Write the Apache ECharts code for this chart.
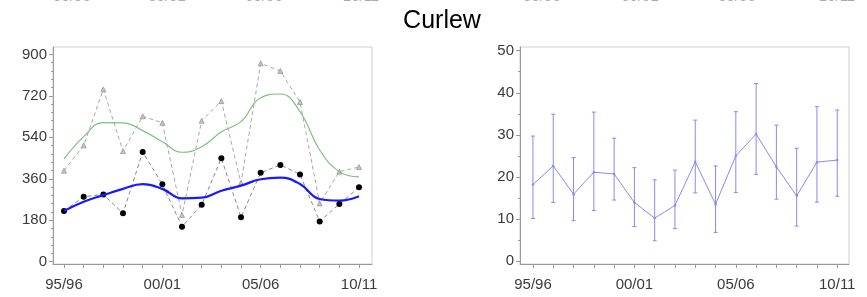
<!DOCTYPE html>
<html>
<head>
<meta charset="utf-8">
<script src="https://cdn.jsdelivr.net/npm/echarts@6/dist/echarts.min.js"></script>
<style>
html,body{margin:0;padding:0;background:#fff;}
#chart{width:867px;height:297px;}
</style>
</head>
<body>
<div id="chart"></div>
<script>
// ---- data ----
var seasons = ['95/96','96/97','97/98','98/99','99/00','00/01','01/02','02/03','03/04','04/05','05/06','06/07','07/08','08/09','09/10','10/11'];
var xLabelIdx = [0, 5, 10, 15];
var yTicksLeft = [0, 180, 360, 540, 720, 900];
var yTicksRight = [0, 10, 20, 30, 40, 50];
var countBlack = [220, 282, 292, 210, 476, 336, 152, 247, 449, 193, 386, 420, 379, 175, 250, 323];
var countGrey  = [395, 505, 748, 480, 631, 603, 203, 612, 697, 342, 861, 828, 693, 253, 391, 411];
var smoothGreen = [446, 543, 604, 603, 569, 521, 475, 499, 564, 608, 712, 728, 651, 485, 391, 368];
var smoothBlue  = [220, 260, 289, 316, 337, 316, 275, 278, 308, 330, 358, 365, 337, 272, 265, 284];
var pctMid  = [18.2, 22.6, 15.9, 21.1, 20.7, 13.9, 10.2, 13.2, 23.6, 13.5, 25.0, 30.2, 22.4, 15.5, 23.5, 24.0];
var pctLow  = [10.1, 13.9, 9.6, 12.0, 14.5, 8.2, 4.8, 7.7, 16.2, 6.8, 16.3, 20.6, 14.7, 8.3, 14.0, 15.4];
var pctHigh = [29.7, 34.9, 24.6, 35.4, 29.2, 22.2, 19.3, 21.6, 33.5, 22.6, 35.5, 42.2, 32.3, 26.8, 36.7, 35.9];

// ---- helpers ----
var FONT = "'Liberation Sans', Arial, sans-serif";
var LABEL_COLOR = '#3a3a3a';
var AXIS_COLOR = '#9a9a9a';
function pairs(arr) { return arr.map(function (v, i) { return [i, v]; }); }
function range(a, b, step) { var r = []; for (var v = a; v <= b + 1e-9; v += step) r.push(Math.round(v * 1000) / 1000); return r; }
var idx = seasons.map(function (s, i) { return i; });

function xAxisCfg(gi, mn, mx) {
  return {
    type: 'value', gridIndex: gi, min: mn, max: mx,
    splitLine: { show: false },
    axisLine: { show: true, onZero: false, lineStyle: { color: AXIS_COLOR, width: 1 } },
    axisTick: { show: true, length: 4, customValues: idx, lineStyle: { color: AXIS_COLOR } },
    axisLabel: {
      show: true, customValues: xLabelIdx, margin: 13,
      color: LABEL_COLOR, fontSize: 15, fontFamily: FONT,
      formatter: function (v) { return seasons[Math.round(v)]; }
    }
  };
}
function yAxisCfg(gi, mn, mx, ticks) {
  return {
    type: 'value', gridIndex: gi, min: mn, max: mx, position: 'left',
    splitLine: { show: false },
    axisLine: { show: true, onZero: false, lineStyle: { color: AXIS_COLOR, width: 1 } },
    axisTick: { show: true, length: 4, customValues: ticks, lineStyle: { color: AXIS_COLOR } },
    axisLabel: { show: true, customValues: ticks, margin: 6, color: LABEL_COLOR, fontSize: 15, fontFamily: FONT }
  };
}
function yMinorCfg(gi, mn, mx, ticks) {
  return {
    type: 'value', gridIndex: gi, min: mn, max: mx, position: 'left', offset: 0,
    splitLine: { show: false },
    axisLine: { show: false, onZero: false },
    axisTick: { show: true, length: 2, customValues: ticks, lineStyle: { color: AXIS_COLOR } },
    axisLabel: { show: false }
  };
}

var minorLeft = range(0, 900, 36).filter(function (v) { return v % 180 !== 0; });
var minorRight = range(0, 50, 5).filter(function (v) { return v % 10 !== 0; });

var errColor = '#8a8aee';

var chart = echarts.init(document.getElementById('chart'), null, { renderer: 'canvas' });

// cut-off tick labels of the chart above (only their lower edge is visible)
var fragX = [72, 167, 264, 361, 542, 640, 737, 837];
var topFragments = fragX.map(function (x, k) {
  return {
    type: 'text', x: x, y: 4.5,
    style: { text: seasons[xLabelIdx[k % 4]], fill: '#aaaaaa', font: '15px ' + FONT, textAlign: 'center', textVerticalAlign: 'bottom' }
  };
});

chart.setOption({
  animation: false,
  backgroundColor: '#ffffff',
  grid: [
    { left: 53, top: 47, width: 319, height: 217, show: true, borderColor: '#cfcfcf', borderWidth: 1, backgroundColor: 'transparent' },
    { left: 520, top: 47, width: 329, height: 217, show: true, borderColor: '#cfcfcf', borderWidth: 1, backgroundColor: 'transparent' }
  ],
  xAxis: [
    xAxisCfg(0, -0.56, 15.66),
    xAxisCfg(1, -0.64, 15.58)
  ],
  yAxis: [
    yAxisCfg(0, -10, 932, yTicksLeft),
    yAxisCfg(1, -0.71, 50.88, yTicksRight),
    yMinorCfg(0, -10, 932, minorLeft),
    yMinorCfg(1, -0.71, 50.88, minorRight)
  ],
  graphic: [
    { type: 'text', x: 442, y: 21, style: { text: 'Curlew', fill: '#000', font: '25px ' + FONT, textAlign: 'center', textVerticalAlign: 'middle' } }
  ].concat(topFragments),
  series: [
    {
      type: 'line', xAxisIndex: 0, yAxisIndex: 0, data: pairs(countGrey),
      symbol: 'triangle', symbolSize: 5,
      itemStyle: { color: '#c4c4c4', borderColor: '#999999', borderWidth: 0.8 },
      lineStyle: { color: '#a8a8a8', width: 1, type: [4, 3] }, z: 2
    },
    {
      type: 'line', xAxisIndex: 0, yAxisIndex: 0, data: pairs(countBlack),
      symbol: 'circle', symbolSize: 6,
      itemStyle: { color: '#000', borderWidth: 0 },
      lineStyle: { color: '#8a8a8a', width: 1, type: [4, 3] }, z: 3
    },
    {
      type: 'line', xAxisIndex: 0, yAxisIndex: 0, data: pairs(smoothGreen),
      smooth: 0.45, symbol: 'none',
      lineStyle: { color: '#7cc07c', width: 1.2 }, z: 4
    },
    {
      type: 'line', xAxisIndex: 0, yAxisIndex: 0, data: pairs(smoothBlue),
      smooth: 0.45, symbol: 'none',
      lineStyle: { color: '#1a1aff', width: 2.2 }, z: 5
    },
    {
      type: 'custom', xAxisIndex: 1, yAxisIndex: 1,
      data: idx.map(function (i) { return [i, pctLow[i], pctHigh[i]]; }),
      renderItem: function (params, api) {
        var x = api.value(0);
        var lo = api.coord([x, api.value(1)]);
        var hi = api.coord([x, api.value(2)]);
        var hw = 2;
        var st = { stroke: errColor, lineWidth: 1, fill: null };
        return {
          type: 'group',
          children: [
            { type: 'line', shape: { x1: lo[0], y1: lo[1], x2: hi[0], y2: hi[1] }, style: st },
            { type: 'line', shape: { x1: lo[0] - hw, y1: lo[1], x2: lo[0] + hw, y2: lo[1] }, style: st },
            { type: 'line', shape: { x1: hi[0] - hw, y1: hi[1], x2: hi[0] + hw, y2: hi[1] }, style: st }
          ]
        };
      },
      z: 2
    },
    {
      type: 'line', xAxisIndex: 1, yAxisIndex: 1, data: pairs(pctMid),
      symbol: 'circle', symbolSize: 2.5,
      itemStyle: { color: errColor },
      lineStyle: { color: errColor, width: 1 }, z: 3
    }
  ]
});
</script>
</body>
</html>
